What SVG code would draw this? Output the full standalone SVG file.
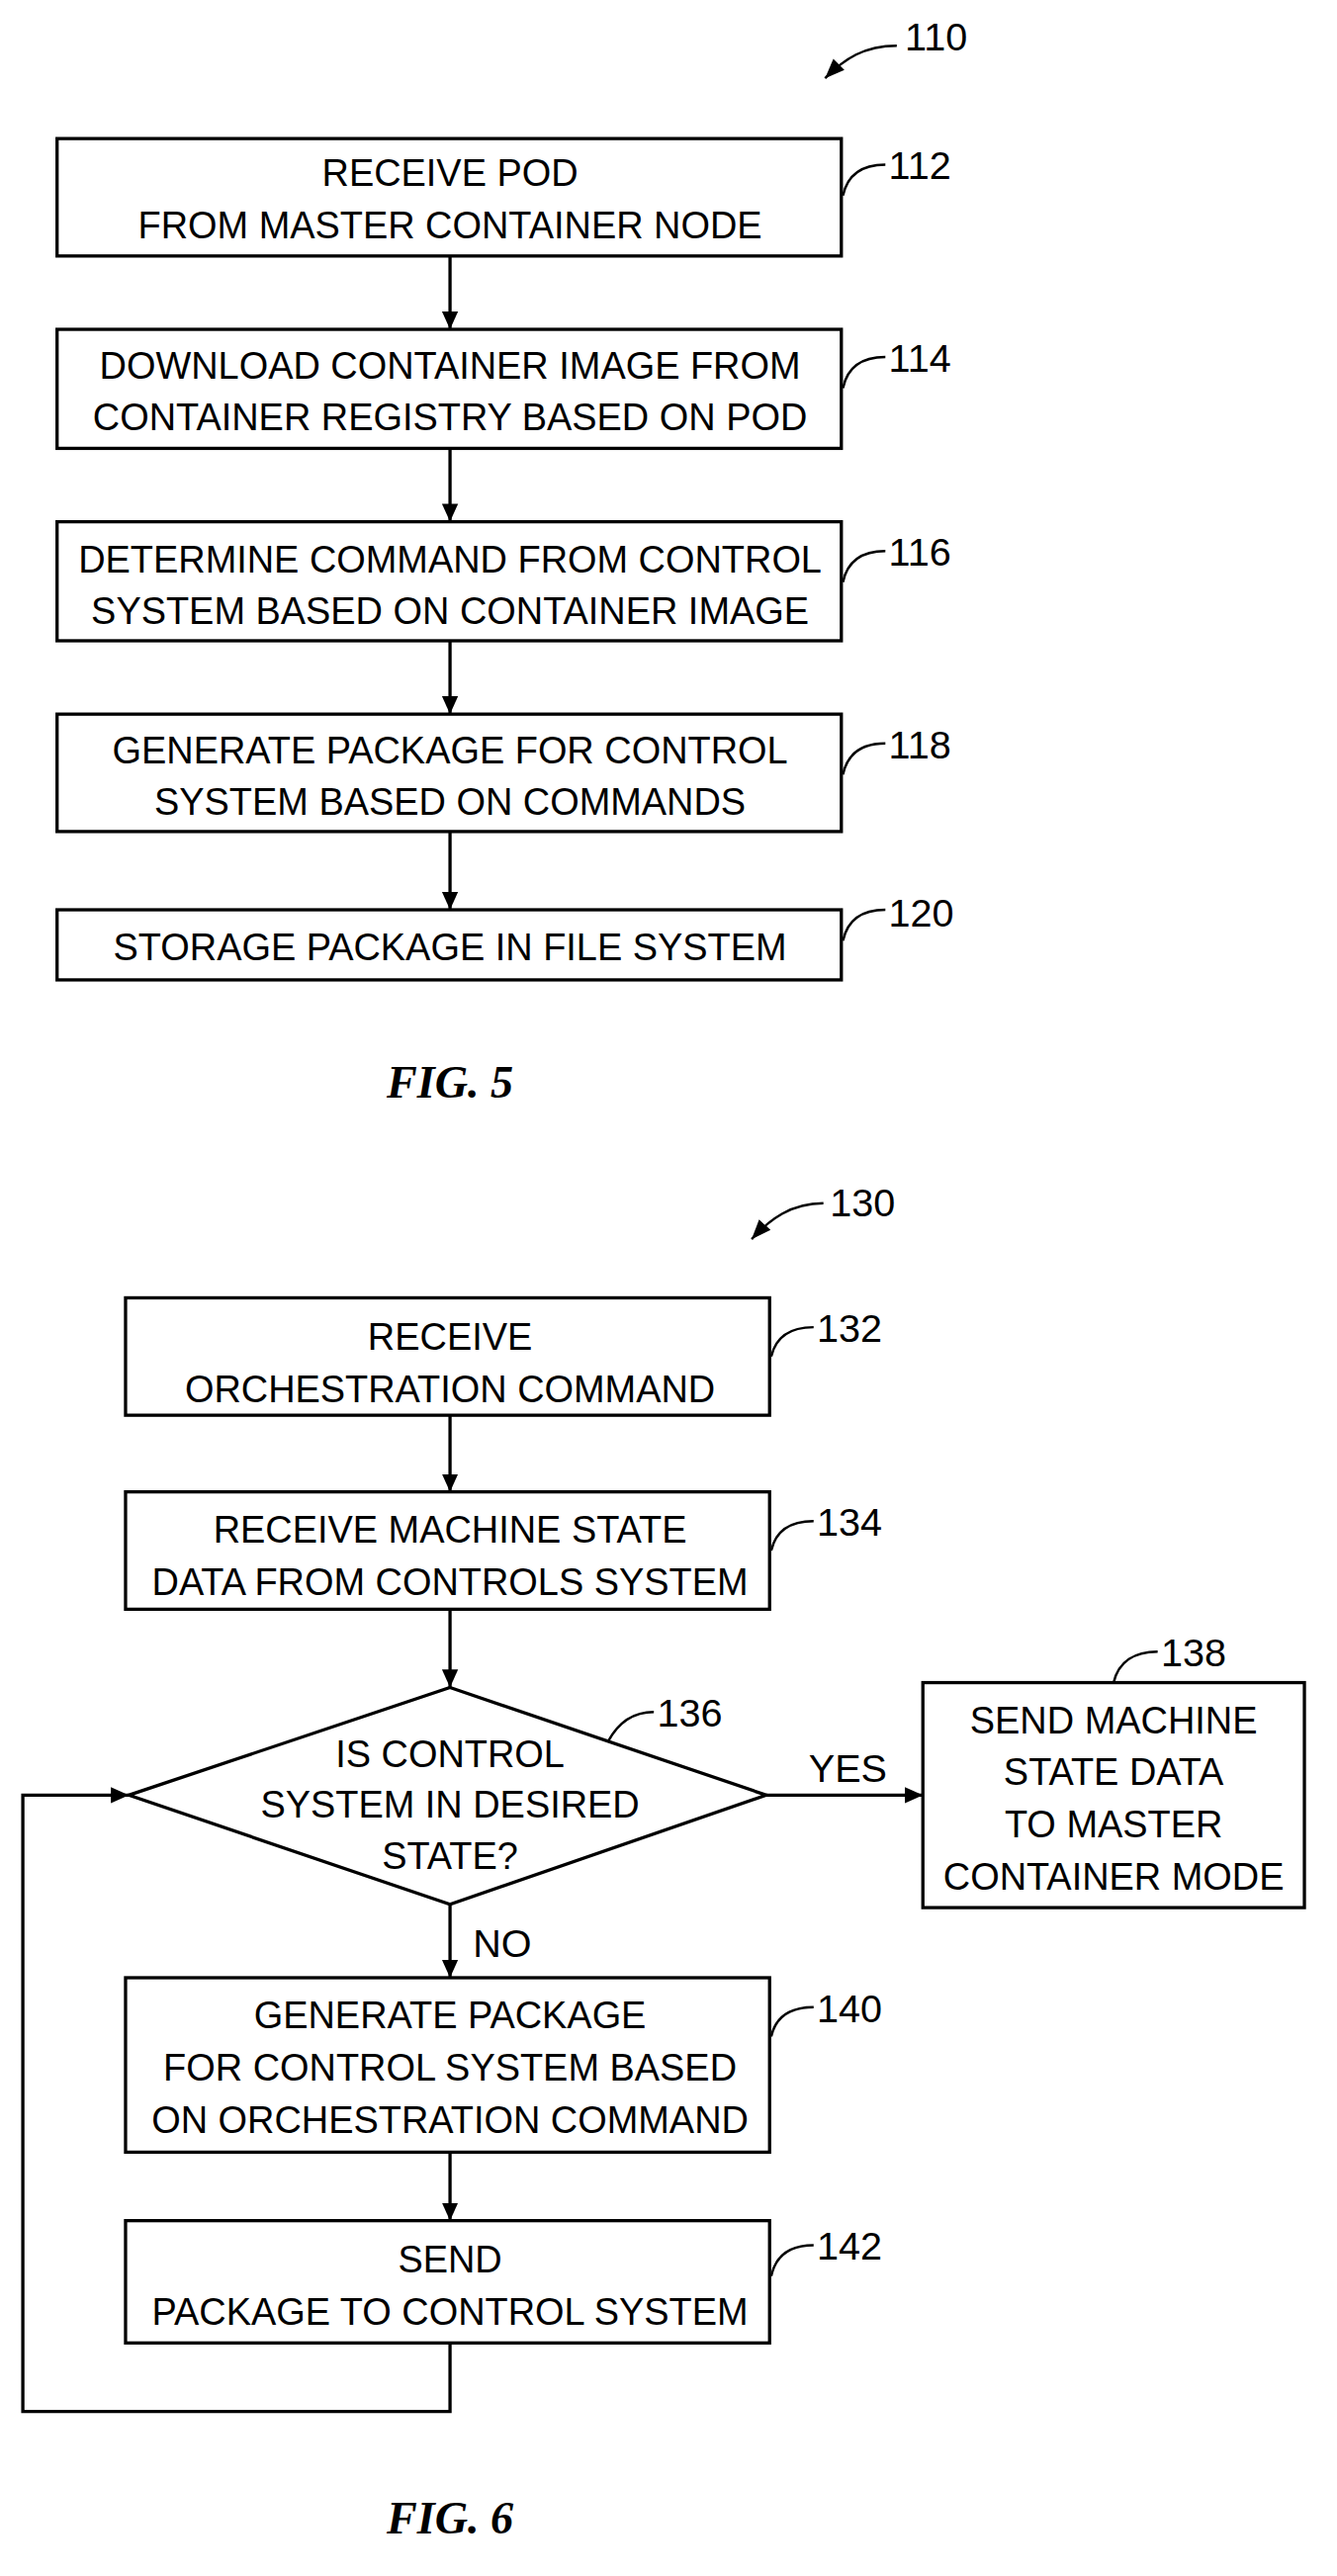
<svg xmlns="http://www.w3.org/2000/svg" width="1352" height="2605" viewBox="0 0 1352 2605">
<defs>
<marker id="ah" viewBox="0 0 10 10" refX="10" refY="5" markerWidth="11" markerHeight="11" markerUnits="userSpaceOnUse" orient="auto"><path d="M0,0.5 L10,5 L0,9.5 z" fill="#000"/></marker>
<marker id="ah2" viewBox="0 0 10 10" refX="10" refY="5" markerWidth="12" markerHeight="12" markerUnits="userSpaceOnUse" orient="auto"><path d="M0,1 L10,5 L0,9 z" fill="#000"/></marker>
<style>
.b{fill:#fff;stroke:#000;stroke-width:2}
.t{font-family:"Liberation Sans",Arial,sans-serif;font-size:23px;fill:#000;text-anchor:middle}
.r{font-family:"Liberation Sans",Arial,sans-serif;font-size:24px;fill:#000}
.c{fill:none;stroke:#000;stroke-width:2}
.l{fill:none;stroke:#000;stroke-width:1.5}
.f{font-family:"Liberation Serif","Times New Roman",serif;font-size:28px;font-style:italic;font-weight:bold;text-anchor:middle}
</style>
</defs>
<rect width="1352" height="2605" fill="#fff"/>
<g transform="scale(1.6488)">
<g id="connectors">
<path class="c" d="M276,157 V202" marker-end="url(#ah)"/>
<path class="c" d="M276,275 V320" marker-end="url(#ah)"/>
<path class="c" d="M276,393 V438" marker-end="url(#ah)"/>
<path class="c" d="M276,510 V558" marker-end="url(#ah)"/>
<path class="c" d="M276,868 V915" marker-end="url(#ah)"/>
<path class="c" d="M276,987 V1035" marker-end="url(#ah)"/>
<path class="c" d="M470,1101 H566" marker-end="url(#ah)"/>
<path class="c" d="M276,1168 V1213" marker-end="url(#ah)"/>
<path class="c" d="M276,1320 V1362" marker-end="url(#ah)"/>
<path class="c" d="M276,1437 V1479 H14 V1101 H79" marker-end="url(#ah)"/>
<text class="r" x="496" y="1093">YES</text>
<text class="r" x="290" y="1200">NO</text>
</g>
<g id="ref110"><path class="l" d="M550,28 C530,28 518,36 506,48" marker-end="url(#ah2)"/><text class="r" x="555" y="31">110</text></g>
<g id="n112"><rect class="b" x="35" y="85" width="481" height="72"/><text class="t" x="276" y="114">RECEIVE POD</text><text class="t" x="276" y="146">FROM MASTER CONTAINER NODE</text><path class="l" d="M517,120 C520,106 530,101 543,101"/><text class="r" x="545" y="110">112</text></g>
<g id="n114"><rect class="b" x="35" y="202" width="481" height="73"/><text class="t" x="276" y="232">DOWNLOAD CONTAINER IMAGE FROM</text><text class="t" x="276" y="264">CONTAINER REGISTRY BASED ON POD</text><path class="l" d="M517,238 C520,224 530,219 543,219"/><text class="r" x="545" y="228">114</text></g>
<g id="n116"><rect class="b" x="35" y="320" width="481" height="73"/><text class="t" x="276" y="351">DETERMINE COMMAND FROM CONTROL</text><text class="t" x="276" y="383">SYSTEM BASED ON CONTAINER IMAGE</text><path class="l" d="M517,357 C520,343 530,338 543,338"/><text class="r" x="545" y="347">116</text></g>
<g id="n118"><rect class="b" x="35" y="438" width="481" height="72"/><text class="t" x="276" y="468">GENERATE PACKAGE FOR CONTROL</text><text class="t" x="276" y="500">SYSTEM BASED ON COMMANDS</text><path class="l" d="M517,475 C520,461 530,456 543,456"/><text class="r" x="545" y="465">118</text></g>
<g id="n120"><rect class="b" x="35" y="558" width="481" height="43"/><text class="t" x="276" y="589">STORAGE PACKAGE IN FILE SYSTEM</text><path class="l" d="M517,577 C520,563 530,558 543,558"/><text class="r" x="545" y="568">120</text></g>
<text class="f" x="276" y="673">FIG. 5</text>
<g id="ref130"><path class="l" d="M505,738 C485,738 472,748 461,760" marker-end="url(#ah2)"/><text class="r" x="509" y="746">130</text></g>
<g id="n132"><rect class="b" x="77" y="796" width="395" height="72"/><text class="t" x="276" y="828">RECEIVE</text><text class="t" x="276" y="860">ORCHESTRATION COMMAND</text><path class="l" d="M473,832 C476,819 486,814 499,814"/><text class="r" x="501" y="823">132</text></g>
<g id="n134"><rect class="b" x="77" y="915" width="395" height="72"/><text class="t" x="276" y="946">RECEIVE MACHINE STATE</text><text class="t" x="276" y="978">DATA FROM CONTROLS SYSTEM</text><path class="l" d="M473,951 C476,938 486,933 499,933"/><text class="r" x="501" y="942">134</text></g>
<g id="n136"><polygon class="b" points="276,1035 470,1101 276,1168 79,1101"/><text class="t" x="276" y="1084">IS CONTROL</text><text class="t" x="276" y="1115">SYSTEM IN DESIRED</text><text class="t" x="276" y="1146">STATE?</text><path class="l" d="M373,1068 C380,1055 390,1050 401,1050"/><text class="r" x="403" y="1059">136</text></g>
<g id="n138"><rect class="b" x="566" y="1032" width="234" height="138"/><text class="t" x="683" y="1063">SEND MACHINE</text><text class="t" x="683" y="1095">STATE DATA</text><text class="t" x="683" y="1127">TO MASTER</text><text class="t" x="683" y="1159">CONTAINER MODE</text><path class="l" d="M683,1032 C686,1019 696,1013 710,1013"/><text class="r" x="712" y="1022">138</text></g>
<g id="n140"><rect class="b" x="77" y="1213" width="395" height="107"/><text class="t" x="276" y="1244">GENERATE PACKAGE</text><text class="t" x="276" y="1276">FOR CONTROL SYSTEM BASED</text><text class="t" x="276" y="1308">ON ORCHESTRATION COMMAND</text><path class="l" d="M473,1249 C476,1236 486,1231 499,1231"/><text class="r" x="501" y="1240">140</text></g>
<g id="n142"><rect class="b" x="77" y="1362" width="395" height="75"/><text class="t" x="276" y="1394">SEND</text><text class="t" x="276" y="1426">PACKAGE TO CONTROL SYSTEM</text><path class="l" d="M473,1396 C476,1382 486,1377 499,1377"/><text class="r" x="501" y="1386">142</text></g>
<text class="f" x="276" y="1554">FIG. 6</text>
</g>
</svg>
